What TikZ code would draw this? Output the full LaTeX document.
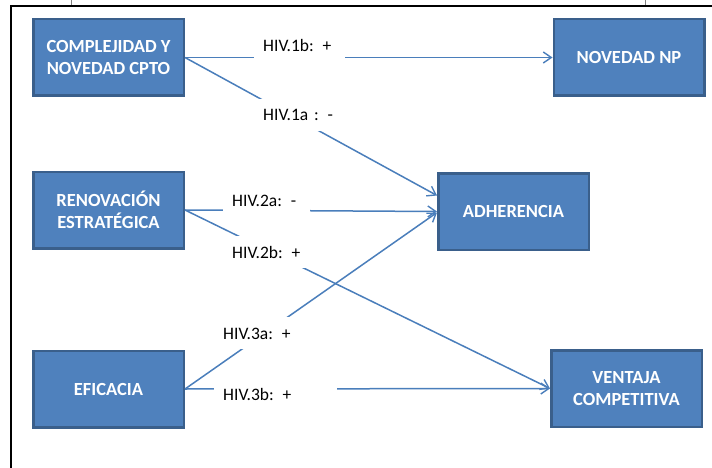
\documentclass[tikz,border=0pt]{standalone}
\usepackage{fontspec}
\setmainfont{Carlito}
\usetikzlibrary{arrows.meta}

\definecolor{boxfill}{HTML}{4F81BD}
\definecolor{boxline}{HTML}{3A5F8B}
\definecolor{linkcol}{HTML}{4A7EBB}

\begin{document}
\begin{tikzpicture}[x=1pt,y=-1pt,
  concept/.style={rectangle, draw=boxline, line width=2.5pt, fill=boxfill,
    minimum width=150.5pt, minimum height=76.5pt, inner sep=2pt,
    text=white, align=center,
    font=\bfseries\fontsize{18.5}{22}\selectfont},
  link/.style={draw=linkcol, line width=1.5pt,
    -{Straight Barb[length=8pt,width=11pt,line width=1.4pt]}},
  hyp/.style={fill=white, anchor=base west, inner xsep=9pt, inner ysep=0pt,
    text height=22pt, text depth=10pt, align=left,
    font=\fontsize{17.5}{20}\selectfont}]

  % page frame
  \useasboundingbox (0,0) rectangle (712,468);
  \draw[line width=2pt] (11,468) -- (11,6) -- (712,6);
  \draw[gray, line width=0.6pt] (71,0) -- (71,5);
  \draw[gray, line width=0.6pt] (645,0) -- (645,5);

  % constructs
  \node[concept] (cpto)  at (108.5,57.5) {COMPLEJIDAD Y\\NOVEDAD CPTO};
  \node[concept] (np)    at (629,57.5)   {NOVEDAD NP};
  \node[concept] (renov) at (108.5,210)  {RENOVACIÓN\\ESTRATÉGICA};
  \node[concept] (adh)   at (513.5,211.5){ADHERENCIA};
  \node[concept] (efic)  at (108.5,389)  {EFICACIA};
  \node[concept] (vent)  at (626.5,388.5){VENTAJA\\COMPETITIVA};

  % hypothesised effects
  \draw[link] (cpto.east) -- (np.west);
  \draw[link] (cpto.east) -- ([yshift=16pt]adh.west);
  \draw[link] (renov.east) -- (adh.west);
  \draw[link] (renov.east) -- (vent.west);
  \draw[link] (efic.east) -- ([yshift=-1pt]adh.west);
  \draw[link] (efic.east) -- (vent.west);

  % hypothesis labels
  \node[hyp, text width=73pt]  (h1b) at (254,51.7)  {HIV.1b: +};
  \node[hyp, text width=73pt]  (h1a) at (254,120.7) {HIV.1a : -};
  \node[hyp, text width=69pt]  (h2a) at (223,206.7) {HIV.2a: -};
  \node[hyp, text width=72pt]  (h2b) at (223,258)   {HIV.2b: +};
  \node[hyp, text width=73pt]  (h3a) at (214,339)   {HIV.3a: +};
  \node[hyp, text width=105pt] (h3b) at (214,400)   {HIV.3b: +};
\end{tikzpicture}
\end{document}
